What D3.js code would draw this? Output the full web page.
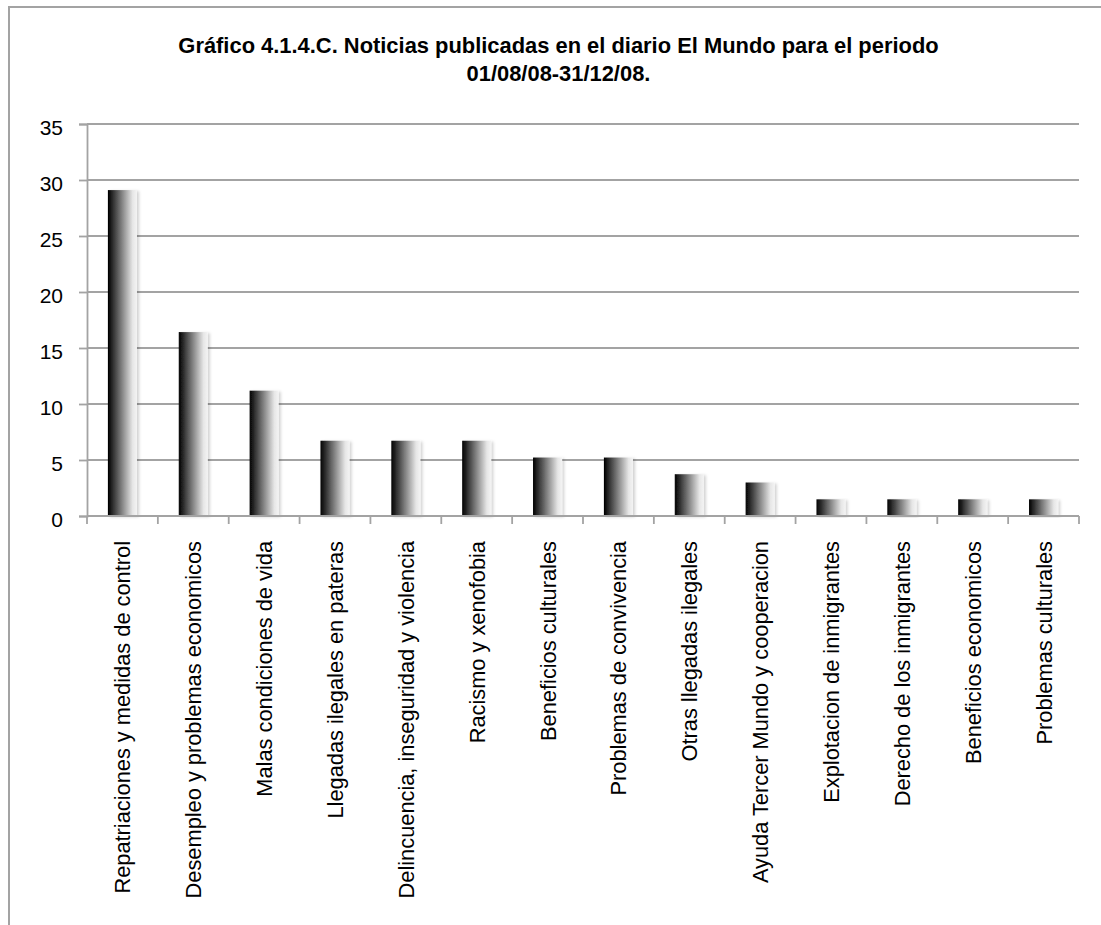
<!DOCTYPE html>
<html>
<head>
<meta charset="utf-8">
<script src="https://cdn.jsdelivr.net/npm/d3@7"></script>
<style>
  html, body { margin: 0; padding: 0; background: #fff; }
  svg { display: block; font-family: "Liberation Sans", Arial, sans-serif; }
</style>
</head>
<body>
<svg id="chart" width="1101" height="925"></svg>
<script>
// Temas de las noticias (porcentaje sobre el total)
const categories = [
  "Repatriaciones y medidas de control",
  "Desempleo y problemas economicos",
  "Malas condiciones de vida",
  "Llegadas ilegales en pateras",
  "Delincuencia, inseguridad y violencia",
  "Racismo y xenofobia",
  "Beneficios culturales",
  "Problemas de convivencia",
  "Otras llegadas ilegales",
  "Ayuda Tercer Mundo y cooperacion",
  "Explotacion de inmigrantes",
  "Derecho de los inmigrantes",
  "Beneficios economicos",
  "Problemas culturales"
];
const values = [29.10, 16.42, 11.19, 6.72, 6.72, 6.72, 5.22, 5.22, 3.73, 2.99, 1.49, 1.49, 1.49, 1.49];
const yTicks = [0, 5, 10, 15, 20, 25, 30, 35];
const titleLines = [
  "Gráfico 4.1.4.C. Noticias publicadas en el diario El Mundo para el periodo",
  "01/08/08-31/12/08."
];

const svg = d3.select("#chart");
const plot = { left: 87, right: 1079, top: 124, bottom: 516 };
const gridColor = "#a3a3a3";

// Marco del gráfico
svg.append("rect")
  .attr("x", 9).attr("y", 7)
  .attr("width", 1200).attr("height", 1000)
  .attr("fill", "none")
  .attr("stroke", gridColor)
  .attr("stroke-width", 2);

// Título
svg.append("g").selectAll("text")
  .data(titleLines)
  .join("text")
  .attr("x", 558.5)
  .attr("y", (d, i) => 53 + i * 28)
  .attr("text-anchor", "middle")
  .attr("font-weight", "bold")
  .attr("font-size", 21.9)
  .attr("fill", "#000")
  .text(d => d);

const x = d3.scaleBand()
  .domain(categories)
  .range([plot.left, plot.right])
  .paddingInner(0.59)
  .paddingOuter(0.295);

const y = d3.scaleLinear()
  .domain([0, 35])
  .range([plot.bottom, plot.top]);

// Degradado de las barras y sombra suave
const defs = svg.append("defs");
const grad = defs.append("linearGradient")
  .attr("id", "barGrad")
  .attr("x1", "0%").attr("x2", "100%")
  .attr("y1", "0%").attr("y2", "0%");
grad.append("stop").attr("offset", "0%").attr("stop-color", "#000");
grad.append("stop").attr("offset", "45%").attr("stop-color", "#7a7a7a");
grad.append("stop").attr("offset", "85%").attr("stop-color", "#e6e6e6");
grad.append("stop").attr("offset", "100%").attr("stop-color", "#f4f4f4");

const shadow = defs.append("filter")
  .attr("id", "barShadow")
  .attr("x", "-20%").attr("y", "-5%")
  .attr("width", "150%").attr("height", "115%");
shadow.append("feDropShadow")
  .attr("dx", 2).attr("dy", 1)
  .attr("stdDeviation", 1.5)
  .attr("flood-color", "#000")
  .attr("flood-opacity", 0.18);

// Líneas de cuadrícula horizontales
svg.append("g")
  .selectAll("line")
  .data(yTicks.filter(d => d > 0))
  .join("line")
  .attr("x1", plot.left).attr("x2", plot.right)
  .attr("y1", d => y(d)).attr("y2", d => y(d))
  .attr("stroke", gridColor)
  .attr("stroke-width", 1.8);

// Eje Y
const yAxis = d3.axisLeft(y).tickValues(yTicks).tickSize(8).tickPadding(16);
const gy = svg.append("g")
  .attr("transform", `translate(${plot.left},0)`)
  .call(yAxis);
gy.select(".domain").attr("stroke", gridColor).attr("stroke-width", 1.8);
gy.selectAll(".tick line").attr("stroke", gridColor).attr("stroke-width", 1.8);
gy.selectAll(".tick text")
  .attr("font-family", "\"Liberation Sans\", Arial, sans-serif")
  .attr("font-size", 21)
  .attr("fill", "#000")
  .attr("dy", "0.52em");

// Barras
svg.append("g")
  .selectAll("rect")
  .data(values)
  .join("rect")
  .attr("x", (d, i) => x(categories[i]))
  .attr("y", d => y(d))
  .attr("width", x.bandwidth())
  .attr("height", d => y(0) - y(d))
  .attr("fill", "url(#barGrad)")
  .attr("filter", "url(#barShadow)");

// Eje X con marcas entre categorías
const step = x.step();
const gx = svg.append("g");
gx.append("line")
  .attr("x1", plot.left).attr("x2", plot.right)
  .attr("y1", plot.bottom).attr("y2", plot.bottom)
  .attr("stroke", gridColor).attr("stroke-width", 1.8);
gx.selectAll("line.tick")
  .data(d3.range(categories.length + 1))
  .join("line")
  .attr("class", "tick")
  .attr("x1", i => plot.left + i * (plot.right - plot.left) / categories.length)
  .attr("x2", i => plot.left + i * (plot.right - plot.left) / categories.length)
  .attr("y1", plot.bottom).attr("y2", plot.bottom + 8)
  .attr("stroke", gridColor).attr("stroke-width", 1.8);

// Etiquetas de categoría, giradas
gx.selectAll("text")
  .data(categories)
  .join("text")
  .attr("transform", d => `translate(${x(d) + x.bandwidth() / 2 + 8},${plot.bottom + 25}) rotate(-90)`)
  .attr("text-anchor", "end")
  .attr("font-size", 21.8)
  .attr("fill", "#000")
  .text(d => d);
</script>
</body>
</html>
